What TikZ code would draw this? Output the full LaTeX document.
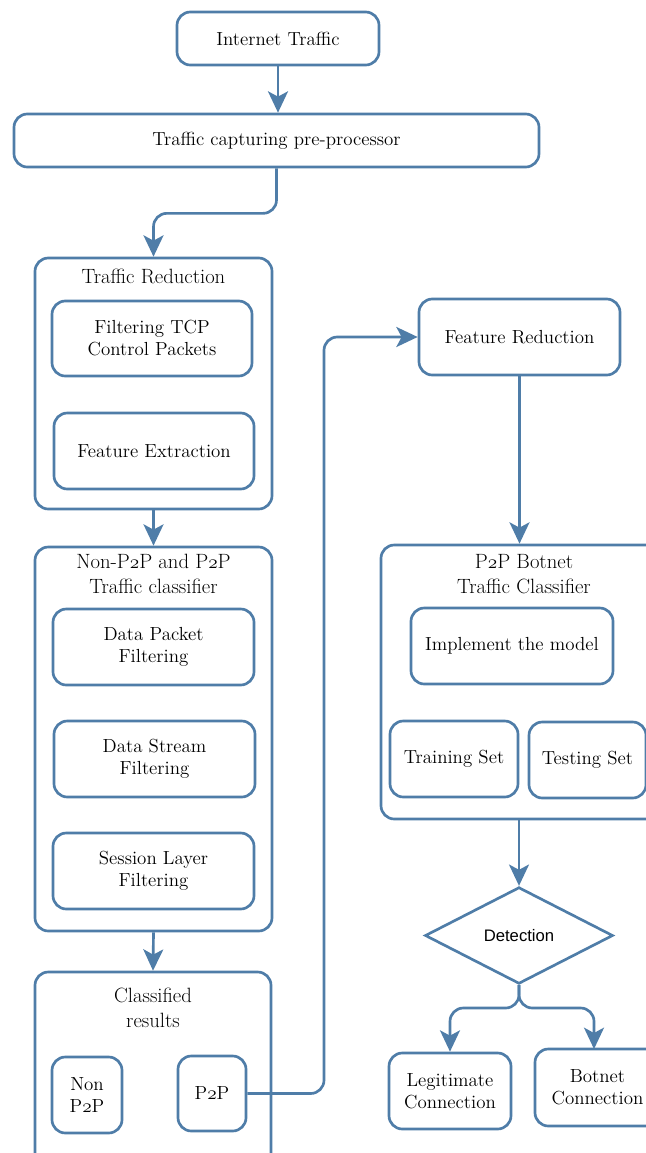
\documentclass[tikz,border=0pt]{standalone}
\usepackage{fontspec}
\newfontfamily\detfont{Liberation Sans}
\usetikzlibrary{fit,shapes.geometric,arrows.meta}
\definecolor{edge}{RGB}{79,125,168}
% old-style two, as in "P2P"
\newcommand\ptp{P\ensuremath{\mathnormal{2}}P}
\begin{document}
\begin{tikzpicture}[x=0.75pt,y=-0.75pt,
  box/.style={draw=edge, line width=2pt, rounded corners=10pt, inner sep=0pt,
    label={[txt]center:#1}},
  txt/.style={align=center, inner sep=0pt, font=\fontsize{14.2}{16.5}\selectfont},
  group/.style={draw=edge, line width=2pt, rounded corners=10pt, inner sep=0pt},
  title/.style={align=center, inner sep=0pt, font=\fontsize{15.5}{19}\selectfont},
  link/.style={draw=edge, line width=2pt, rounded corners=10pt,
    -{Stealth[length=16pt, width=15pt, inset=4pt]}}
]
\useasboundingbox (0,0) rectangle (646,1153);
\clip (0,0) rectangle (646,1153);

% left column
\node[box={Internet Traffic}, fit={(177,12)(379,65)}] (inet) {};
\node[box={Traffic capturing pre-processor}, fit={(14,114)(539,167)}] (pre) {};

\node[group, fit={(35,258)(272,509)}] (tr) {};
\node[title] (trt) at (153.5,276) {Traffic Reduction};
\node[box={Filtering TCP\\Control Packets}, fit={(52,301)(252,376)}] (tcp) {};
\node[box={Feature Extraction}, fit={(54,413)(254,489)}] (fe) {};

\node[group, fit={(35,547)(272,931)}] (np) {};
\node[title] (npt) at (153.5,574) {Non-\ptp{} and \ptp\\Traffic classifier};
\node[box={Data Packet\\Filtering}, fit={(53,609)(254,685)}] (dpf) {};
\node[box={Data Stream\\Filtering}, fit={(54,721)(255,797)}] (dsf) {};
\node[box={Session Layer\\Filtering}, fit={(53,833)(254,909)}] (slf) {};

\node[group, fit={(35,972)(271,1190)}] (cr) {};
\node[title] (crt) at (153,1008) {Classified\\results};
\node[box={Non\\\ptp}, fit={(52,1057)(122,1133)}] (nonp) {};
\node[box={\ptp}, fit={(178,1056)(246,1131)}] (p2p) {};

% right column
\node[box={Feature Reduction}, fit={(419,299)(620,375)}] (fr) {};

\node[group, fit={(381,545)(665,819)}] (bc) {};
\node[title] (bct) at (524,574) {\ptp{} Botnet\\Traffic Classifier};
\node[box={Implement the model}, fit={(411,608)(613,684)}] (im) {};
\node[box={Training Set}, fit={(390,721)(518,797)}] (trs) {};
\node[box={Testing Set}, fit={(529,722)(646,798)}] (tes) {};

\node[diamond, draw=edge, line width=2pt, inner sep=0pt,
  minimum width=141pt, minimum height=72.5pt,
  font=\detfont\fontsize{12.5}{15}\selectfont] (det) at (519,935.5) {Detection};

\node[box={Legitimate\\Connection}, fit={(389,1053)(511,1129)}] (leg) {};
\node[box={Botnet\\Connection}, fit={(535,1049)(660,1126)}] (bot) {};

% connectors
\draw[link] (inet.south) -- (inet.south |- pre.north);
\draw[link] (pre.south) -- ++(0,45) -| (tr.north);
\draw[link] (tr.south) -- (np.north);
\draw[link] (np.south) -- (cr.north);
\coordinate (turn) at (324,337);
\draw[link] (p2p.east) -| (turn) -- (fr.west);
\draw[link] (fr.south) -- (fr.south |- bc.north);
\draw[link] (bc.south -| det.north) -- (det.north);
\coordinate (split) at (519,1008);
\draw[link] (det.south) -- (split) -| (leg.north);
\draw[link] (det.south) -- (split) -| (594,1049);
\end{tikzpicture}
\end{document}
